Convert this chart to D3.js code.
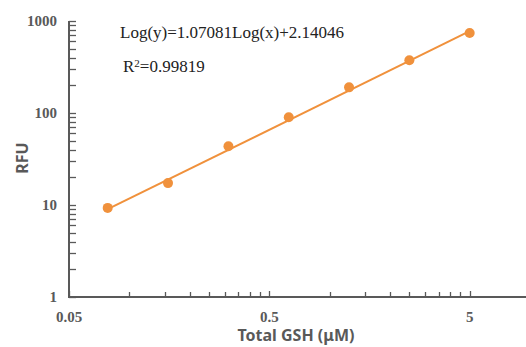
<!DOCTYPE html>
<html>
<head>
<meta charset="utf-8">
<script src="https://cdn.jsdelivr.net/npm/d3@7"></script>
<style>
	body { margin: 0; background: #fff; }
	svg { display: block; }
</style>
</head>
<body>
<svg id="chart" width="526" height="347"></svg>
<script>
	// Data
	var conc = [0.078, 0.156, 0.3125, 0.625, 1.25, 2.5, 5],
		rfu = [9.3, 17.3, 43.5, 90, 190, 375, 740];

	// Regression from the label
	var slope = 1.07081,
		intercept = 2.14046,
		rSquared = '0.99819';

	var xMajor = [0.05, 0.5, 5],
		yMajor = [1, 10, 100, 1000];

	var grey = '#595959',
		orange = '#F0913C';

	var svg = d3.select('#chart');

	// Scales
	var x = d3.scaleLog().domain([0.05, 50]).range([69, 670]),
		y = d3.scaleLog().domain([1, 1000]).range([297, 21]);

	// Minor ticks: multiples of the decade start
	var xMinor = [];
	xMajor.forEach(function(m) {
		for (var k = 2; k < 10; k++) {
			var v = m * k;
			if (x(v) < 526) xMinor.push(v);
		}
	});
	var yMinor = [];
	yMajor.slice(0, 3).forEach(function(m) {
		for (var k = 2; k < 10; k++) yMinor.push(m * k);
	});

	var axes = svg.append('g').attr('class', 'axes');

	// y ticks (inside, to the right)
	axes.selectAll('.ytick')
		.data(yMajor.concat(yMinor))
		.enter().append('line')
			.attr('x1', x(0.05))
			.attr('x2', x(0.05) + 7)
			.attr('y1', function(d) { return Math.round(y(d)) + 0.5; })
			.attr('y2', function(d) { return Math.round(y(d)) + 0.5; })
			.style('stroke', grey)
			.style('stroke-width', 1.3);

	// x ticks (inside, upward)
	axes.selectAll('.xtick')
		.data(xMajor.concat(xMinor).filter(function(d) { return x(d) < 526; }))
		.enter().append('line')
			.attr('x1', function(d) { return Math.round(x(d)) + 0.5; })
			.attr('x2', function(d) { return Math.round(x(d)) + 0.5; })
			.attr('y1', y(1))
			.attr('y2', function(d) { return xMajor.indexOf(d) >= 0 ? y(1) - 6 : y(1) - 5; })
			.style('stroke', grey)
			.style('stroke-width', 1.3);

	// axis lines
	axes.append('path')
		.attr('d', 'M' + x(0.05) + ',' + y(1000) + 'V' + y(1) + 'H526')
		.style('fill', 'none')
		.style('stroke', grey)
		.style('stroke-width', 2);

	// tick labels
	var tickFont = 'bold 15px "Liberation Serif", "Times New Roman", serif';
	axes.selectAll('.ylabel')
		.data(yMajor)
		.enter().append('text')
			.attr('x', 57)
			.attr('y', function(d) { return y(d) + 5; })
			.attr('text-anchor', 'end')
			.style('font', tickFont)
			.style('fill', grey)
			.text(function(d) { return d; });

	axes.selectAll('.xlabel')
		.data(xMajor)
		.enter().append('text')
			.attr('x', function(d) { return x(d); })
			.attr('y', 322)
			.attr('text-anchor', 'middle')
			.style('font', tickFont)
			.style('fill', grey)
			.text(function(d) { return d; });

	// axis titles
	var titleFont = 'bold 16px "Noto Sans", "Open Sans", sans-serif';
	svg.append('text')
		.attr('x', 296)
		.attr('y', 341)
		.attr('text-anchor', 'middle')
		.style('font', titleFont)
		.style('fill', grey)
		.text('Total GSH (μM)');

	svg.append('text')
		.attr('transform', 'translate(28,158) rotate(-90)')
		.attr('text-anchor', 'middle')
		.style('font', titleFont)
		.style('fill', grey)
		.text('RFU');

	// trend line from the fitted equation
	var xr = d3.extent(conc);
	var fit = function(v) { return Math.pow(10, slope * Math.log10(v) + intercept); };
	svg.append('line')
		.attr('x1', x(xr[0]))
		.attr('y1', y(fit(xr[0])))
		.attr('x2', x(xr[1]))
		.attr('y2', y(fit(xr[1])))
		.style('stroke', orange)
		.style('stroke-width', 2);

	// points
	svg.selectAll('.pt')
		.data(conc)
		.enter().append('circle')
			.attr('cx', function(d) { return x(d); })
			.attr('cy', function(d, i) { return y(rfu[i]); })
			.attr('r', 5)
			.style('fill', orange);

	// equation labels
	var eqFont = '17px "Liberation Serif", "Times New Roman", serif';
	svg.append('text')
		.attr('x', 120)
		.attr('y', 38)
		.style('font', eqFont)
		.style('fill', '#222')
		.text('Log(y)=' + slope + 'Log(x)+' + intercept);

	var r2 = svg.append('text')
		.attr('x', 123)
		.attr('y', 72)
		.style('font', eqFont)
		.style('fill', '#222');
	r2.append('tspan').text('R');
	r2.append('tspan').attr('dy', -5).style('font-size', '11px').text('2');
	r2.append('tspan').attr('dy', 5).text('=' + rSquared);
</script>
</body>
</html>
